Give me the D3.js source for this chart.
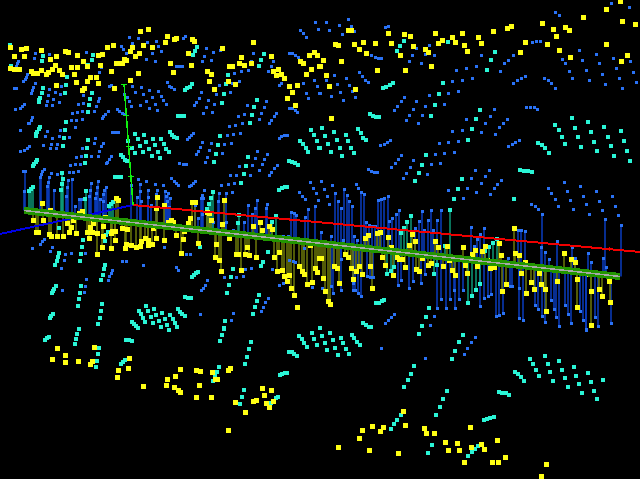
<!DOCTYPE html>
<html>
<head>
<meta charset="utf-8">
<script src="https://cdn.jsdelivr.net/npm/d3@7"></script>
<style>
html, body { margin: 0; padding: 0; background: #000; overflow: hidden; }
svg { display: block; }
</style>
</head>
<body>
<div id="chart"></div>
<script>
// DATA (x/y in picture units)

const yellowPoints = [[10,47],[21,49],[26,48],[41,50],[14,56],[24,56],[10,68],[14,69],[19,69],[31,71],[33,73],[37,73],[41,70],[46,74],[48,72],[52,69],[55,65],[50,59],[56,56],[59,70],[62,74],[65,51],[68,52],[71,67],[74,74],[77,55],[77,67],[83,61],[87,66],[76,82],[56,85],[82,90],[84,88],[87,81],[90,77],[96,77],[98,83],[100,65],[98,55],[102,54],[107,47],[113,45],[111,71],[114,88],[116,63],[119,64],[122,64],[124,59],[126,60],[130,80],[138,73],[130,51],[132,47],[135,56],[139,53],[140,32],[148,29],[143,45],[152,47],[165,42],[167,36],[174,39],[176,38],[192,39],[194,41],[188,53],[170,63],[173,72],[191,65],[207,71],[211,74],[209,81],[214,89],[222,48],[228,81],[235,84],[229,66],[232,66],[239,64],[244,65],[251,64],[241,57],[253,42],[271,56],[273,71],[276,75],[278,69],[281,74],[284,78],[289,86],[292,92],[287,98],[297,85],[295,105],[300,61],[303,63],[306,74],[311,69],[309,55],[314,52],[317,55],[319,66],
[620,1],[606,9],[622,21],[635,24],[606,44],[627,55],[621,62],[583,17],[542,23],[553,29],[565,27],[569,31],[556,36],[547,44],[559,50],[570,57],[525,42],[520,52],[511,26],[507,28],[493,32],[478,37],[481,43],[467,51],[464,45],[462,33],[455,42],[452,37],[442,40],[438,43],[435,33],[431,66],[428,52],[425,49],[413,46],[410,36],[404,34],[400,55],[405,70],[391,43],[388,33],[377,70],[375,43],[366,53],[363,42],[359,49],[354,44],[351,31],[348,30],[338,45],[335,44],[341,62],[323,60],[320,66],[326,75],[329,86],[355,89],[331,118],
[42,203],[50,210],[33,220],[43,220],[36,232],[38,232],[49,234],[51,236],[57,236],[63,236],[69,232],[71,227],[67,223],[73,220],[76,233],[82,211],[79,213],[93,223],[90,227],[87,232],[92,232],[97,233],[89,238],[103,226],[103,236],[111,233],[115,231],[112,231],[115,240],[102,248],[97,254],[111,249],[116,198],[118,200],[105,217],[122,228],[127,229],[126,244],[125,249],[131,245],[136,248],[140,246],[141,241],[145,238],[148,240],[148,245],[152,244],[156,238],[164,240],[153,228],[168,222],[171,220],[173,222],[176,235],[183,239],[184,231],[188,223],[190,218],[192,202],[195,202],[157,197],[164,205],[156,208],[181,253],[198,243],[207,212],[209,213],[211,220],[222,224],[224,200],[216,244],[229,238],[215,257],[219,260],[221,271],[236,254],[238,254],[245,254],[247,248],[249,256],[241,270],[256,257],[253,226],[260,222],[262,230],[269,226],[272,229],[274,257],[279,252],[277,271],[282,270],[284,276],[289,275],[287,281],[291,288],[294,295],[297,307],[299,266],[302,271],[304,274],[307,284],[312,282],[315,268],[317,272],[310,245],[319,258],
[321,258],[323,278],[325,291],[328,301],[330,304],[334,266],[337,268],[339,283],[345,255],[348,257],[351,268],[356,271],[353,279],[359,266],[362,274],[370,266],[372,288],[365,238],[368,235],[377,233],[380,232],[388,237],[382,257],[385,265],[393,275],[391,248],[397,257],[399,259],[402,259],[405,267],[409,245],[412,234],[415,242],[416,269],[419,271],[422,258],[428,265],[431,263],[435,242],[438,247],[443,266],[449,260],[447,246],[452,270],[455,275],[463,247],[465,265],[467,273],[472,255],[475,250],[477,266],[482,251],[485,246],[487,260],[490,268],[494,267],[499,243],[501,256],[502,291],[506,284],[514,228],[515,253],[519,256],[521,273],[525,262],[526,293],[531,282],[534,289],[539,273],[541,284],[545,289],[546,311],[557,281],[564,253],[571,259],[575,262],[577,279],[577,307],[589,274],[591,291],[591,325],[599,289],[602,296],[609,281],[610,302],
[57,348],[65,355],[52,359],[65,362],[78,361],[94,347],[92,361],[90,364],[129,358],[128,368],[118,370],[117,377],[143,386],[180,369],[175,376],[167,379],[166,385],[174,387],[178,390],[180,392],[196,370],[200,371],[199,385],[196,397],[211,397],[212,372],[215,379],[217,379],[228,370],[230,368],[235,402],[245,412],[253,401],[256,400],[262,388],[264,395],[271,390],[266,403],[269,407],[273,401],[228,430],
[403,411],[362,430],[372,426],[383,427],[380,431],[359,438],[405,425],[338,447],[369,450],[398,453],[424,428],[426,433],[434,433],[470,427],[445,442],[457,443],[448,450],[459,450],[471,447],[481,444],[484,449],[497,440],[464,462],[492,462],[498,462],[505,457],[546,464],[541,476]]

const tealPoints = [[10,45],[43,56],[42,61],[11,66],[43,88],[42,93],[40,98],[39,100],[39,102],[66,85],[67,77],[65,93],[93,55],[92,60],[88,65],[92,93],[90,99],[89,105],[88,112],[66,122],[65,130],[64,138],[63,146],[40,127],[39,129],[37,132],[36,134],[36,136],[88,140],[87,148],[86,156],[85,163],[37,160],[36,162],[34,164],[33,166],[135,134],[144,135],[153,139],[161,139],[138,139],[146,142],[155,145],[164,144],[128,141],[132,148],[140,146],[149,149],[158,152],[166,149],[135,153],[143,152],[152,156],[160,158],[169,152],[121,155],[123,157],[125,160],[127,161],[170,132],[172,135],[174,137],[177,138],[178,116],[181,116],[184,116],[115,177],[118,177],[121,177],[185,90],[187,88],[190,87],[192,84],[197,47],[195,51],[193,55],[228,75],[226,84],[224,94],[222,103],[264,54],[261,60],[259,66],[257,100],[254,107],[252,115],[250,123],[220,136],[218,145],[216,154],[214,162],[248,157],[246,166],[244,174],[241,183],[289,161],[292,162],[295,163],[298,165],[300,141],[303,144],[306,148],[308,152],[311,130],[314,135],[317,141],[319,148],[279,190],[282,188],[285,187],[287,187],[62,173],[63,179],[62,184],[61,190],[86,191],[33,187],[31,189],[29,191],[213,192],[211,198],[85,199],
[404,41],[400,46],[397,51],[448,42],[495,52],[491,60],[487,70],[443,83],[439,94],[435,105],[431,116],[480,110],[476,119],[472,129],[468,140],[426,155],[422,165],[419,173],[415,181],[462,179],[458,189],[454,199],[514,199],[383,88],[386,87],[390,85],[393,83],[370,114],[373,116],[376,117],[379,117],[358,129],[361,133],[363,138],[366,140],[322,128],[334,132],[346,135],[325,136],[337,140],[348,141],[328,144],[340,148],[351,148],[320,148],[331,152],[342,156],[354,153],[555,125],[559,130],[562,137],[565,144],[572,118],[575,128],[578,137],[581,147],[588,122],[591,132],[594,142],[597,151],[604,127],[608,137],[611,146],[614,156],[621,131],[624,141],[627,151],[630,161],[538,143],[542,145],[545,148],[549,153],[520,170],[524,171],[528,171],[532,172],
[59,228],[83,240],[82,247],[81,254],[80,261],[105,265],[104,269],[103,275],[101,280],[59,253],[58,257],[57,261],[55,265],[81,286],[80,293],[79,299],[78,306],[56,286],[54,289],[53,291],[52,293],[53,314],[51,316],[50,318],[102,304],[101,311],[100,318],[98,324],[79,329],[198,272],[196,273],[194,275],[192,277],[185,297],[188,298],[191,298],[146,306],[154,309],[162,313],[170,315],[139,311],[148,311],[156,315],[165,319],[173,319],[141,314],[143,318],[145,322],[151,317],[159,321],[167,325],[175,323],[153,323],[161,327],[169,330],[177,327],[132,322],[134,324],[136,326],[138,328],[178,309],[180,312],[182,314],[185,316],[231,277],[229,285],[227,293],[225,321],[224,328],[259,295],[257,301],[255,307],[253,314],[233,269],[263,262],[261,266],
[411,216],[407,222],[404,228],[401,233],[450,210],[445,246],[497,239],[493,243],[489,247],[485,251],[437,265],[434,274],[391,271],[387,274],[394,267],[480,284],[476,290],[472,296],[468,303],[376,303],[379,303],[382,301],[384,300],[363,323],[366,325],[369,327],[371,327],[429,308],[426,317],[422,326],[320,328],[209,204],[207,209],[200,247],[238,223],[239,215],[276,216],[272,222],[268,252],[109,206],[111,204],[113,202],[108,232],[106,235],[105,241],
[45,340],[47,338],[49,337],[77,334],[76,339],[75,344],[99,348],[98,354],[97,361],[96,367],[126,340],[129,340],[132,341],[121,364],[123,362],[125,360],[219,367],[217,372],[215,376],[213,381],[244,390],[242,397],[240,404],[271,403],[276,398],[278,397],[251,342],[249,349],[247,357],[245,364],[220,341],[222,335],[224,329],[280,375],[282,374],[285,373],[287,373],[289,352],[292,352],[294,354],[297,356],[299,336],[302,339],[304,343],[307,347],[312,333],[314,339],[317,345],
[330,333],[322,336],[341,338],[333,340],[325,343],[343,343],[335,348],[346,349],[327,350],[338,355],[349,354],[352,335],[354,338],[357,342],[360,345],[419,334],[463,335],[459,342],[455,351],[452,359],[414,366],[411,374],[408,380],[404,387],[447,391],[443,399],[440,407],[436,415],[432,445],[428,453],[401,415],[397,420],[394,424],[391,429],[484,420],[487,419],[490,418],[494,417],[478,446],[475,449],[472,452],[468,456],[499,392],[502,393],[506,393],[509,395],[515,372],[518,374],[521,377],[524,381],[530,359],[533,364],[536,370],[539,376],[545,356],[548,364],[550,372],[553,381],[559,361],[562,370],[565,378],[568,387],[574,367],[576,376],[579,384],[582,393],[588,373],[591,382],[594,391],[597,399],[603,380]]

const bluePoints = [[315,22],[300,30],[303,33],[306,37],[318,29],[129,37],[138,38],[132,43],[147,42],[156,41],[158,46],[161,51],[155,61],[146,59],[152,53],[121,46],[123,49],[126,53],[183,38],[185,36],[206,48],[213,52],[220,50],[204,56],[211,60],[202,62],[253,53],[251,61],[273,62],[271,66],[268,71],[248,70],[241,71],[234,73],[239,81],[232,83],[219,85],[230,92],[216,94],[208,100],[201,92],[199,98],[196,102],[194,105],[214,104],[206,107],[212,112],[203,113],[266,101],[264,107],[261,113],[259,119],[247,105],[244,114],[238,116],[242,124],[235,125],[229,126],[240,133],[233,134],[227,135],[224,144],[231,143],[222,153],[209,150],[211,143],[207,157],[205,162],[202,142],[200,147],[198,151],[196,154],[276,113],[274,116],[271,120],[269,124],[287,135],[284,135],[281,136],[279,138],[193,133],[191,135],[189,137],[187,139],[257,151],[267,154],[255,158],[264,159],[262,164],[252,165],[239,166],[259,170],[230,175],[236,175],[250,175],[277,165],[274,168],[271,172],[269,175],[186,164],[183,164],[179,163],[195,181],[193,183],[191,185],[189,186],[171,178],[174,181],[176,183],[178,185],[221,185],[228,184],[234,183],[204,190],[202,195],[219,193],[226,193],[232,192],[201,198],[310,182],[313,188],[299,192],[302,196],[316,193],[305,199],[289,53],[292,53],[295,55],[298,57],[281,83],[279,85],[303,83],[306,93],[317,86],[314,80],[308,98],[319,93],[289,108],[292,108],[295,110],[297,112],[176,66],[179,66],[182,66],[167,82],[169,86],[171,87],[174,89],
[35,53],[34,58],[49,54],[18,62],[17,64],[16,66],[27,74],[26,77],[25,79],[23,81],[35,83],[33,87],[32,90],[31,93],[14,88],[16,88],[49,89],[55,92],[60,94],[61,86],[48,95],[53,99],[47,101],[59,102],[46,105],[52,105],[24,104],[22,106],[20,108],[15,109],[32,117],[31,120],[29,123],[28,124],[20,130],[47,131],[60,130],[45,136],[52,138],[59,136],[43,145],[51,144],[57,144],[50,148],[56,148],[69,137],[29,146],[27,148],[24,150],[20,151],[72,113],[77,112],[82,111],[71,121],[76,120],[82,119],[75,128],[108,111],[105,114],[103,116],[102,118],[117,109],[119,111],[122,113],[125,114],[78,104],[83,103],[94,111],[96,106],[98,101],[99,98],[109,86],[111,85],[99,72],[101,67],[86,52],[83,95],[132,86],[141,87],[149,90],[158,91],[135,92],[143,94],[152,97],[161,96],[127,97],[124,94],[129,101],[146,101],[163,100],[155,104],[166,104],[131,106],[140,105],[149,108],[157,110],[112,132],[115,132],[118,132],[95,138],[103,143],[94,143],[101,146],[99,151],[82,148],[91,156],[98,156],[81,156],[76,157],[80,164],[75,164],[70,165],[78,171],[73,172],[69,172],[57,174],[51,173],[111,156],[109,159],[107,162],[106,163],[44,169],[42,171],[41,174],[40,177],[23,171],[25,171],[138,179],[146,181],[155,184],[163,185],[140,184],[148,190],[157,190],[166,196],[131,185],
[49,177],[68,180],[72,179],[48,182],[47,186],[67,187],[54,190],[66,196],[91,183],[98,181],[106,187],[90,190],[97,187],[104,190],[96,193],[103,194],[89,196],[95,198],[79,199],[24,191],
[555,12],[559,15],[611,3],[629,7],[326,22],[348,19],[339,25],[329,30],[351,26],[342,34],[354,32],[385,27],[388,26],[416,48],[429,45],[425,54],[434,55],[412,55],[409,62],[421,63],[371,55],[375,57],[378,58],[381,58],[532,42],[536,41],[540,41],[513,55],[508,60],[504,64],[500,71],[481,55],[476,66],[466,68],[456,70],[472,78],[462,80],[452,81],[525,76],[521,78],[517,80],[513,83],[544,78],[548,80],[551,83],[555,88],[562,59],[565,64],[569,71],[572,78],[579,50],[582,60],[586,70],[589,80],[596,54],[599,64],[602,74],[605,84],[613,58],[616,68],[619,78],[622,88],[630,62],[633,72],[636,82],[359,72],[362,76],[365,80],[368,82],[334,75],[346,78],[326,80],[337,84],[349,85],[340,92],[352,91],[331,96],[355,97],[343,100],[320,93],[404,97],[401,101],[397,106],[394,110],[416,101],[413,109],[409,115],[406,121],[425,106],[422,115],[418,123],[429,95],[448,93],[458,91],[444,104],[526,107],[530,107],[534,107],[537,109],[494,109],[490,116],[485,123],[481,132],[507,119],[503,124],[499,128],[495,134],[466,119],[462,130],[452,131],[458,141],[448,142],[439,143],[454,152],[444,153],[435,154],[390,140],[387,142],[384,144],[380,145],[519,140],[515,142],[512,144],[508,146],[401,155],[398,159],[395,163],[391,167],[413,160],[410,167],[406,173],[403,178],[431,164],[427,174],[440,163],[368,169],[371,171],[374,172],[377,172],[475,170],[489,170],[471,178],[485,176],[481,183],[501,180],[497,184],[494,188],[490,194],[467,188],[476,192],[448,190],[463,198],[321,181],[332,185],[324,189],[344,189],[335,193],[327,196],[347,195],[356,184],[358,188],[361,192],[364,194],[388,196],[384,198],[381,199],[378,200],[564,182],[567,191],[580,186],[583,196],[596,191],[612,196],[548,188],[551,193],[555,199],
[329,204],[338,201],[341,208],[349,201],[352,206],[366,222],[369,225],[372,226],[375,226],[354,236],[357,240],[331,236],[343,240],[321,232],[341,259],[360,248],[389,221],[392,218],[396,214],[399,210],[422,211],[419,221],[415,228],[431,210],[428,220],[424,230],[441,210],[437,220],[433,230],[471,227],[484,228],[480,234],[477,239],[474,246],[525,231],[521,230],[518,230],[542,214],[538,209],[535,206],[531,204],[541,248],[545,252],[549,259],[557,242],[553,267],[572,247],[575,258],[588,253],[591,262],[603,258],[606,267],[605,219],[621,225],[558,206],[573,209],[589,214],[586,204],[570,200],[602,210],[615,206],[618,215],[599,201],
[441,299],[450,299],[459,299],[454,290],[463,290],[488,296],[491,294],[484,298],[480,306],[503,313],[499,315],[496,316],[519,318],[523,320],[535,305],[538,309],[542,316],[545,322],[551,300],[554,309],[556,317],[559,326],[565,305],[568,314],[571,323],[580,311],[583,320],[586,329],[595,317],[598,326],[611,323],[437,308],[446,308],[455,308],[434,316],[430,325],[394,314],[391,317],[388,320],[385,323],[353,290],[358,293],[361,296],[355,290],[333,293],[341,290],[322,288],[331,286],[353,283],[367,276],[370,277],[373,277],[398,285],[409,288],[401,280],[413,281],[421,283],[425,274],[510,286],[512,286],[519,288],[508,258],
[32,249],[50,251],[52,248],[44,239],[42,242],[40,244],[65,254],[71,253],[85,253],[64,260],[61,268],[112,270],[111,273],[109,276],[108,280],[122,261],[126,261],[143,265],[176,267],[178,270],[86,279],[85,286],[84,292],[62,290],[207,280],[205,285],[203,288],[201,290],[224,277],[236,277],[243,276],[268,298],[265,302],[263,307],[261,311],[233,313],[231,320],[200,314],[279,285],[283,283],[287,282],[312,287],[272,269],[251,268],[245,269],[164,247],[186,254],[190,255],
[137,197],[141,201],[151,205],[168,193],[170,198],[167,201],[169,207],[140,191],[148,197],[156,194],[165,191],[203,198],[195,205],[202,214],[198,218],[218,201],[248,205],[257,200],[267,204],[255,208],[266,208],[252,214],[244,222],[243,232],[233,230],[271,222],[283,236],[288,236],[291,212],[294,213],[296,215],[308,209],[305,217],[318,200],[315,206],[304,249],[289,260],[293,261],[295,262],[226,222],[213,222],[81,199],[100,199],[103,201],[75,206],
[381,348],[425,358],[475,337],[471,342],[467,348],[464,354],[586,330]]

// teal points that hang from the fit line
const tealStems = [[33,187],[31,189],[29,191],[62,173],[63,179],[62,184],[61,190],[86,191],[85,199],[213,192],[211,198],[209,204],[207,209],[239,215],[238,223],[276,216],[272,222],[109,206],[111,204],[113,202],[411,216],[407,222],[404,228],[401,233],[450,210],[445,246],[497,239],[493,243],[489,247],[485,251],[437,265],[434,274],[391,271],[387,274],[394,267],[480,284],[476,290],[472,296],[468,303]]

// fit line and the three axes
const fitLine = [[24,210.5],[620,276.5]]
const redAxis = [[133,205],[640,252]]
const blueAxis = [[0,234],[133,205]]
const greenAxis = [[124,84],[133,205]]
const greenTicks = [[124,84],[126,115],[129,146],[131,176]]
const redTicks = [[609,249]]

// CONSTANTES

const width = 640
const height = 479

const svg = d3.select("#chart").append("svg").attr("width", width).attr("height", height)
    .style("background", "#000")

// ESCALAS

const x = d3.scaleLinear().domain([0, 640]).range([0, width])
const y = d3.scaleLinear().domain([0, 479]).range([0, height])

const fitY = d3.scaleLinear().domain(fitLine.map(d => d[0])).range(fitLine.map(d => d[1]))
const line = d3.line().x(d => x(d[0])).y(d => y(d[1]))

// which points carry a residual stem
const blueHasStem = d => {
    if (d[0] < 24 || d[0] > 622) return false
    const dist = d[1] - fitY(d[0])
    if (dist < 0) return -dist < (d[0] < 330 ? 40 : 58)
    return d[0] > 330 ? dist < 58 : dist < 12
}
const yellowHasStem = d => {
    if (d[0] < 24) return false
    const dist = d[1] - fitY(d[0])
    return dist < 0 ? -dist < 55 : dist < 60
}

// STEMS

function stems(data, color) {
    svg.append("g").selectAll("line").data(data).enter().append("line")
        .attr("x1", d => x(d[0]))
        .attr("y1", d => y(d[1]))
        .attr("x2", d => x(d[0]))
        .attr("y2", d => y(fitY(d[0])))
        .attr("stroke", color)
        .attr("stroke-width", 1.5)
}
stems(bluePoints.filter(blueHasStem), "#0a3cc0")
stems(tealStems, "#0d9a78")
stems(yellowPoints.filter(yellowHasStem), "#6e7a0a")

// PUNTOS

function squares(data, color, size) {
    svg.append("g").selectAll("rect").data(data).enter().append("rect")
        .attr("x", d => Math.round(x(d[0]) - size / 2))
        .attr("y", d => Math.round(y(d[1]) - size / 2))
        .attr("width", size)
        .attr("height", size)
        .attr("fill", color)
}
squares(bluePoints, "#2a72f5", 3)
squares(tealPoints, "#2af5d6", 4)
squares(yellowPoints, "#ffff14", 5)

// EJES

const axes = svg.append("g").attr("shape-rendering", "crispEdges").attr("fill", "none")
axes.append("path").attr("d", line(redAxis)).attr("stroke", "#f00000").attr("stroke-width", 2)
axes.append("path").attr("d", line(blueAxis)).attr("stroke", "#0000e6").attr("stroke-width", 2)
axes.append("path").attr("d", line(greenAxis)).attr("stroke", "#10f010").attr("stroke-width", 1.5)
axes.selectAll(".gt").data(greenTicks).enter().append("line").attr("class", "gt")
    .attr("x1", d => x(d[0]) - 3).attr("x2", d => x(d[0]) + 3)
    .attr("y1", d => y(d[1])).attr("y2", d => y(d[1]))
    .attr("stroke", "#10f010")
axes.selectAll(".rt").data(redTicks).enter().append("line").attr("class", "rt")
    .attr("x1", d => x(d[0])).attr("x2", d => x(d[0]))
    .attr("y1", d => y(d[1]) - 2).attr("y2", d => y(d[1]) + 2)
    .attr("stroke", "#f00000")

// RECTA AJUSTADA

const fit = svg.append("g").attr("shape-rendering", "crispEdges").attr("fill", "none")
fit.append("path").attr("d", line(fitLine)).attr("stroke", "#229600").attr("stroke-width", 7)
fit.append("path").attr("d", line(fitLine)).attr("stroke", "#a8a8a8").attr("stroke-width", 1.5)
</script>
</body>
</html>
